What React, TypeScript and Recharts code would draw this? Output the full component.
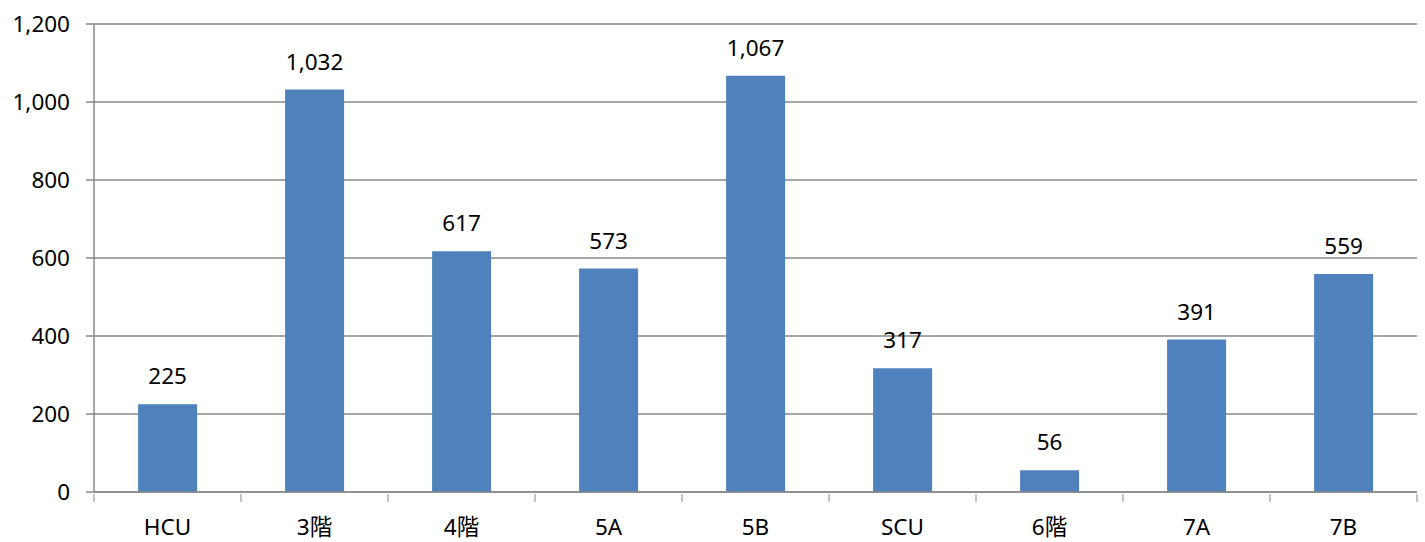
import { BarChart, Bar, XAxis, YAxis, CartesianGrid, LabelList } from 'recharts';

const categories = ['HCU', '3階', '4階', '5A', '5B', 'SCU', '6階', '7A', '7B'];
const counts = [225, 1032, 617, 573, 1067, 317, 56, 391, 559];
const yTicks = [0, 200, 400, 600, 800, 1000, 1200];

const data = categories.map((name, i) => ({ name, value: counts[i] }));

const FONT = '"Noto Sans", "Noto Sans CJK JP", sans-serif';
const FS = 22.5;
const GRID = '#898989';
const fmt = (v: number) => v.toLocaleString('en-US');

// x tick: label at category centre, tick marks at the category edges (Excel style)
function CategoryTick(props: any) {
  const { x, y, payload, index, visibleTicksCount } = props;
  const half = payload.offset ?? 0;
  const axisY = y - 8;
  return (
    <g>
      <line x1={x - half} x2={x - half} y1={axisY} y2={axisY + 8} stroke={GRID} />
      {index === visibleTicksCount - 1 && (
        <line x1={x + half} x2={x + half} y1={axisY} y2={axisY + 8} stroke={GRID} />
      )}
      <text x={x} y={axisY + 41} textAnchor="middle" fill="#000" fontSize={FS} fontFamily={FONT}>
        {payload.value}
      </text>
    </g>
  );
}

export default function App() {
  return (
    <div style={{ position: 'fixed', left: 0, top: 0, background: '#fff' }}>
      <BarChart
        width={1425}
        height={542}
        data={data}
        margin={{ top: 24, right: 8, left: 0, bottom: 0 }}
        barCategoryGap="30%"
      >
        <CartesianGrid vertical={false} stroke={GRID} strokeWidth={1.5} />
        <XAxis
          dataKey="name"
          height={50}
          stroke={GRID}
          strokeWidth={1.5}
          tickLine={false}
          tickSize={8}
          tick={<CategoryTick />}
          interval={0}
        />
        <YAxis
          width={94}
          domain={[0, 1200]}
          ticks={yTicks}
          tickFormatter={fmt}
          stroke={GRID}
          strokeWidth={1.5}
          tickSize={8}
          tickMargin={16}
          tick={{ fill: '#000', fontSize: FS, fontFamily: FONT }}
        />
        <Bar dataKey="value" fill="#4F81BD" isAnimationActive={false}>
          <LabelList
            dataKey="value"
            position="top"
            offset={20}
            formatter={(v: any) => fmt(Number(v))}
            style={{ fill: '#000', fontSize: FS, fontFamily: FONT }}
          />
        </Bar>
      </BarChart>
    </div>
  );
}
